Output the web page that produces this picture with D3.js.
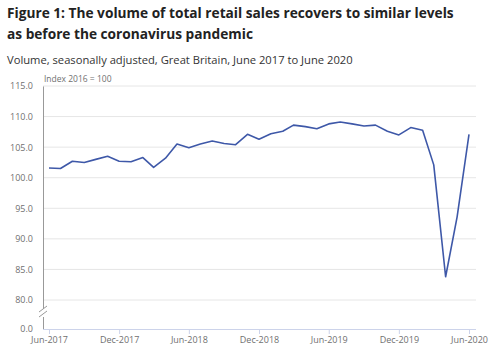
<!DOCTYPE html>
<html>
<head>
<meta charset="utf-8">
<script src="https://cdn.jsdelivr.net/npm/d3@7"></script>
<style>
  body { margin: 0; background: #fff; font-family: "Open Sans", sans-serif; }
  .title { font-weight: bold; font-size: 13.7px; fill: #222; }
  .sub { font-size: 11.2px; fill: #333; }
  .axis text { font-size: 9px; fill: #707070; font-family: "Open Sans", sans-serif; }
  .grid line { stroke: #e6e6e6; }
</style>
</head>
<body>
<div id="plot"></div>
<script>
const months = ["2017-06","2017-07","2017-08","2017-09","2017-10","2017-11","2017-12",
  "2018-01","2018-02","2018-03","2018-04","2018-05","2018-06","2018-07","2018-08","2018-09","2018-10","2018-11","2018-12",
  "2019-01","2019-02","2019-03","2019-04","2019-05","2019-06","2019-07","2019-08","2019-09","2019-10","2019-11","2019-12",
  "2020-01","2020-02","2020-03","2020-04","2020-05","2020-06"]
const volume = [101.6, 101.5, 102.7, 102.5, 103.0, 103.5, 102.7,
  102.6, 103.3, 101.7, 103.2, 105.5, 104.9, 105.5, 106.0, 105.6, 105.4, 107.1, 106.3,
  107.2, 107.6, 108.6, 108.35, 108.0, 108.8, 109.1, 108.8, 108.45, 108.6, 107.6, 107.0,
  108.2, 107.75, 102.1, 83.8, 93.6, 107.1]
const yTicks = [0, 80, 85, 90, 95, 100, 105, 110, 115]
const xTicks = ["2017-06","2017-12","2018-06","2018-12","2019-06","2019-12","2020-06"]

const w = 496, h = 353,
    parse = d3.timeParse("%Y-%m"),
    fmt = d3.timeFormat("%b-%Y")

const x = d3.scaleTime()
    .domain([parse("2017-06"), parse("2020-06")])
    .range([49, 469])
// broken axis: 0 sits one step below 80
const y = d3.scaleLinear()
    .domain([0, 80, 115])
    .range([329, 300, 86])

const svg = d3.select("#plot").append("svg")
    .attr("width", w)
    .attr("height", h)

svg.append("text").attr("class", "title").attr("x", 7).attr("y", 18)
  .text("Figure 1: The volume of total retail sales recovers to similar levels")
svg.append("text").attr("class", "title").attr("x", 7).attr("y", 39)
  .text("as before the coronavirus pandemic")
svg.append("text").attr("class", "sub").attr("x", 7).attr("y", 64)
  .text("Volume, seasonally adjusted, Great Britain, June 2017 to June 2020")

// gridlines
svg.append("g")
  .attr("class", "grid")
  .selectAll("line")
  .data(yTicks.filter(d => d > 0))
  .join("line")
    .attr("x1", 43)
    .attr("x2", 476)
    .attr("y1", d => y(d))
    .attr("y2", d => y(d))

// y axis
const yAxis = svg.append("g")
  .attr("class", "axis")
  .attr("transform", "translate(43,0)")
  .call(d3.axisLeft(y).tickValues(yTicks).tickFormat(d3.format(".1f")).tickSize(0).tickPadding(10))
yAxis.select(".domain").attr("stroke", "#999")

// break in the y axis
svg.append("rect").attr("x", 41).attr("y", 309).attr("width", 4).attr("height", 8).attr("fill", "#fff")
for (const dy of [0, 5]) {
  svg.append("line")
    .attr("x1", 39).attr("x2", 47)
    .attr("y1", 312 + dy).attr("y2", 306 + dy)
    .attr("stroke", "#999")
}

// x axis
const xAxis = svg.append("g")
  .attr("class", "axis")
  .attr("transform", `translate(0,${y(0)})`)
  .call(d3.axisBottom(x)
    .tickValues(xTicks.map(parse))
    .tickFormat(fmt)
    .tickSize(5)
    .tickSizeOuter(0)
    .tickPadding(3))
xAxis.select(".domain").attr("d", "M43,0.5H476").attr("stroke", "#ccd3ea")
xAxis.selectAll(".tick line").attr("stroke", "#ccd3ea")

svg.append("text")
  .attr("x", 44)
  .attr("y", 82)
  .attr("font-size", 8.5)
  .attr("fill", "#707070")
  .text("Index 2016 = 100")

svg.append("path")
  .datum(months.map((m, i) => ({date: parse(m), value: volume[i]})))
  .attr("fill", "none")
  .attr("stroke", "#3e58a8")
  .attr("stroke-width", 1.6)
  .attr("stroke-linejoin", "round")
  .attr("d", d3.line()
    .x(d => x(d.date))
    .y(d => y(d.value)))
</script>
</body>
</html>
